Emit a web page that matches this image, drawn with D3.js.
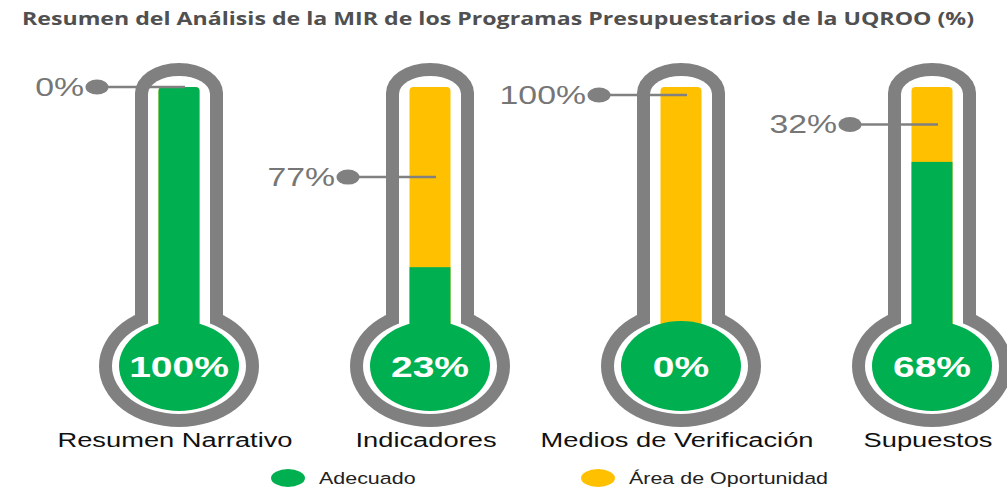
<!DOCTYPE html>
<html>
<head>
<meta charset="utf-8">
<script src="https://cdn.jsdelivr.net/npm/d3@7"></script>
<style>
  body { margin: 0; background: #fff; }
  svg { display: block; }
</style>
</head>
<body>
<div id="chart"></div>
<script>
// Data
const categorias = ["Resumen Narrativo", "Indicadores", "Medios de Verificación", "Supuestos"];
const adecuado = [100, 23, 0, 68];
const oportunidad = [0, 77, 100, 32];
const series = ["Adecuado", "Área de Oportunidad"];
const titulo = "Resumen del Análisis de la MIR de los Programas Presupuestarios de la UQROO (%)";

const width = 1007, height = 487;
const verde = "#00b050", amarillo = "#ffc000", gris = "#808080";
const sx = 1.3; // the whole picture is stretched horizontally

const data = categorias.map((c, i) => ({cat: c, ok: adecuado[i], opp: oportunidad[i]}));

const svg = d3.select("#chart").append("svg")
    .attr("width", width)
    .attr("height", height);

// Scales
const x = d3.scalePoint().domain(categorias).range([179, 932]);
const bulbY = 366;
const y = d3.scaleLinear().domain([0, 100]).range([bulbY - 45, 87]);

// helper: stretched text
function sText(g, px, py, txt) {
    return g.append("g")
        .attr("transform", `translate(${px},${py}) scale(${sx},1)`)
        .append("text")
        .text(txt);
}

// Title
svg.append("text")
    .attr("x", 498)
    .attr("y", 25)
    .attr("text-anchor", "middle")
    .attr("textLength", 952)
    .attr("lengthAdjust", "spacingAndGlyphs")
    .style("font-family", "'Open Sans', sans-serif")
    .style("font-weight", "bold")
    .style("font-size", "17px")
    .style("fill", "#505050")
    .text(titulo);

// tube path with elliptical top cap
function tube(c, half, top, capR) {
    return `M${c - half},${bulbY} V${top + capR} A${half} ${capR} 0 0 1 ${c + half},${top + capR} V${bulbY} Z`;
}

const thermo = svg.selectAll(".thermo")
    .data(data)
    .join("g")
    .attr("class", "thermo");

// Gray outline (outer shape)
thermo.append("path")
    .attr("d", d => tube(x(d.cat), 44, 63, 30))
    .attr("fill", gris);
thermo.append("ellipse")
    .attr("cx", d => x(d.cat))
    .attr("cy", bulbY)
    .attr("rx", 80)
    .attr("ry", 61)
    .attr("fill", gris);

// White inner shape
thermo.append("path")
    .attr("d", d => tube(x(d.cat), 31, 76, 18))
    .attr("fill", "#fff");
thermo.append("ellipse")
    .attr("cx", d => x(d.cat))
    .attr("cy", bulbY)
    .attr("rx", 67)
    .attr("ry", 48)
    .attr("fill", "#fff");

// Fill bars
const barW = 41;
thermo.append("rect")
    .attr("x", d => x(d.cat) - barW / 2)
    .attr("y", y(100))
    .attr("width", barW)
    .attr("height", bulbY - y(100))
    .attr("rx", 4)
    .attr("fill", amarillo);

thermo.filter(d => d.ok > 0).append("rect")
    .attr("x", d => x(d.cat) - barW / 2)
    .attr("y", d => y(d.ok))
    .attr("width", barW)
    .attr("height", d => bulbY - y(d.ok))
    .attr("rx", d => d.ok >= 100 ? 4 : 0)
    .attr("fill", verde);

// Green bulb
thermo.append("ellipse")
    .attr("cx", d => x(d.cat))
    .attr("cy", bulbY)
    .attr("rx", 60)
    .attr("ry", 45)
    .attr("fill", verde);

// Bulb values
thermo.each(function(d) {
    sText(d3.select(this), x(d.cat), bulbY + 11, d.ok + "%")
        .attr("text-anchor", "middle")
        .style("font-family", "'Liberation Sans', Arial, sans-serif")
        .style("font-weight", "bold")
        .style("font-size", "30px")
        .style("fill", "#fff");
});

// Opportunity labels
function labelY(d) {
    if (d.opp >= 100) return y(100) + 8;
    return (y(100) + y(d.ok)) / 2;
}

thermo.append("line")
    .attr("x1", d => x(d.cat) - 82)
    .attr("x2", d => x(d.cat) + 6)
    .attr("y1", labelY)
    .attr("y2", labelY)
    .attr("stroke", gris)
    .attr("stroke-width", 2.5);

thermo.append("ellipse")
    .attr("cx", d => x(d.cat) - 82)
    .attr("cy", labelY)
    .attr("rx", 11.5)
    .attr("ry", 7.5)
    .attr("fill", gris);

thermo.each(function(d) {
    sText(d3.select(this), x(d.cat) - 95, labelY(d) + 9, d.opp + "%")
        .attr("text-anchor", "end")
        .style("font-family", "'Liberation Sans', Arial, sans-serif")
        .style("font-size", "26px")
        .style("fill", "#767676");
});

// Category labels
thermo.each(function(d) {
    sText(d3.select(this), x(d.cat) - 4, 447, d.cat)
        .attr("text-anchor", "middle")
        .style("font-family", "'Liberation Sans', Arial, sans-serif")
        .style("font-size", "21px")
        .style("fill", "#111");
});

// Legend
const lx = d3.scalePoint().domain(series).range([288, 598]);
const lColor = d3.scaleOrdinal().domain(series).range([verde, amarillo]);

const legend = svg.selectAll(".legend")
    .data(series)
    .join("g")
    .attr("class", "legend");

legend.append("ellipse")
    .attr("cx", d => lx(d))
    .attr("cy", 478)
    .attr("rx", 17)
    .attr("ry", 9)
    .attr("fill", d => lColor(d));

legend.each(function(d) {
    sText(d3.select(this), lx(d) + 31, 484, d)
        .style("font-family", "'Liberation Sans', Arial, sans-serif")
        .style("font-size", "16.5px")
        .style("fill", "#222");
});
</script>
</body>
</html>
